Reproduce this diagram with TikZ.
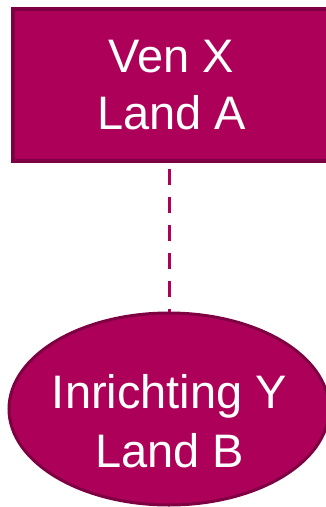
\documentclass[tikz,border=0pt]{standalone}
\usepackage{fontspec}
\setmainfont{Liberation Sans}
\usetikzlibrary{shapes.geometric}
\definecolor{wine}{HTML}{AD0058}
\definecolor{winedark}{HTML}{7E0042}

\begin{document}
\begin{tikzpicture}[x=1pt,y=-1pt,
  unit/.style={draw=winedark,fill=wine,line width=4pt,minimum width=317pt,minimum height=152pt,
    text=white,align=center,font=\fontsize{47}{57}\selectfont},
  site/.style={ellipse,draw=winedark,fill=wine,line width=3pt,minimum width=320pt,minimum height=192pt,inner sep=0pt},
  sitelabel/.style={text=white,align=center,font=\fontsize{47}{59}\selectfont},
  link/.style={draw=wine,line width=3pt,dash pattern=on 16pt off 12pt,dash phase=22pt}]
\useasboundingbox (0,0) rectangle (326,507);
% company box and its establishment
\node[unit] (ven) at (171.5,85) {Ven X\\Land A};
\node[site] (inr) at (169,409) {};
\node[sitelabel] (inrtxt) at (169.5,421) {Inrichting Y\\Land B};
\draw[link] (ven.south -| inr.north) -- (inr.north);
\end{tikzpicture}
\end{document}
